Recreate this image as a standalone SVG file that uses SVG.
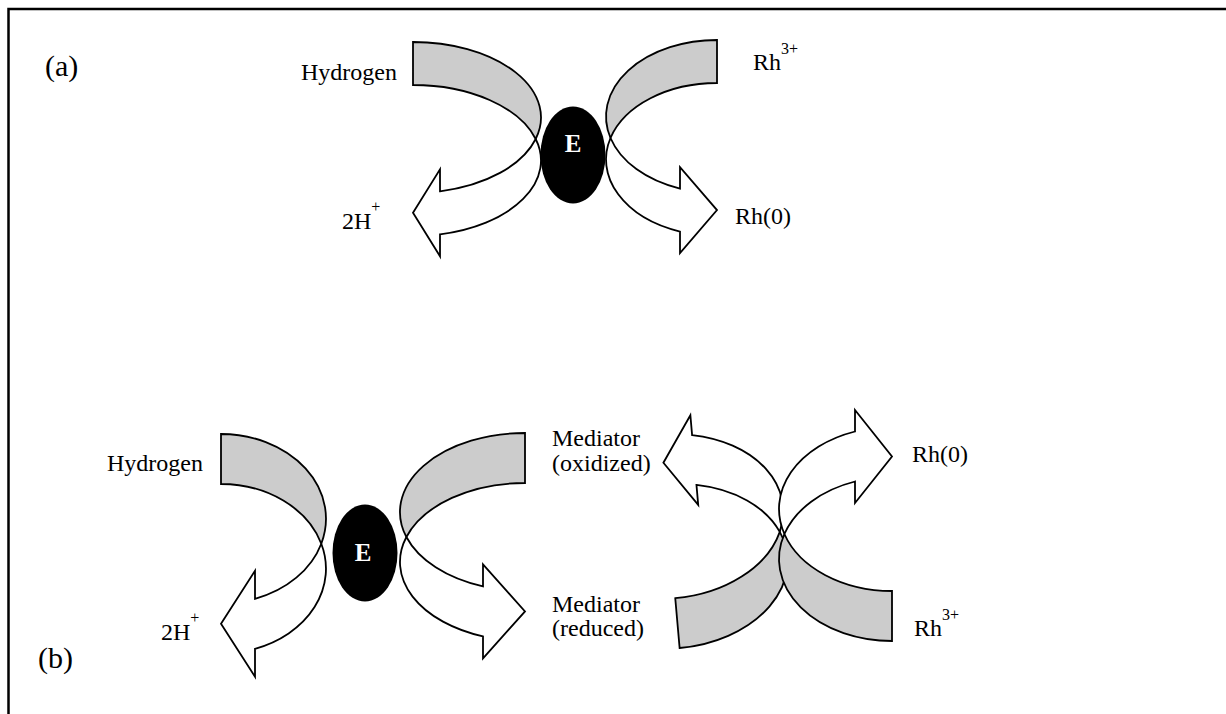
<svg xmlns="http://www.w3.org/2000/svg" width="1226" height="714" viewBox="0 0 1226 714">
  <style>
    .frame { fill: none; stroke: #000; stroke-width: 2.5; }
    .back { fill: #cccccc; stroke: #000; stroke-width: 1.8; stroke-linejoin: miter; }
    .front { fill: #ffffff; stroke: #000; stroke-width: 1.8; stroke-linejoin: miter; }
    .enz { fill: #000; }
    .enz-t { font-family: "Liberation Serif", "Times New Roman", serif; font-weight: bold; font-size: 25px; fill: #fff; text-anchor: middle; }
    .lbl { font-family: "Liberation Serif", "Times New Roman", serif; font-size: 24px; fill: #000; }
    .sup { font-size: 16px; }
    .panel { font-family: "Liberation Serif", "Times New Roman", serif; font-size: 30px; fill: #000; }
  </style>

  <!-- page frame: top and left rules only -->
  <path class="frame" d="M8.5,714 V9 H1226"/>

  <!-- curved ribbon arrows (local frame: left edge x=0, top y=0) -->
  <g id="connectors">
    <!-- (a) hydrogen -> 2H+ -->
    <g id="a-hydrogen-arrow" transform="translate(413,42)">
      <path class="back" d="M0,0 A128,75.5 0 0 1 122.7,97 A128,75.5 0 0 0 0,43 Z"/>
      <path class="front" d="M122.7,97 A128,75.5 0 0 1 27,192.3 L27,214.3 L0,170.8 L27,127.3 L27,149.3 A128,75.5 0 0 0 122.7,97 Z"/>
    </g>
    <!-- (a) Rh3+ -> Rh(0) -->
    <g id="a-rhodium-arrow" transform="translate(717,40) scale(-1,1)">
      <path class="back" d="M0,0 A111,76.5 0 0 1 106.5,98 A111,76.5 0 0 0 0,43 Z"/>
      <path class="front" d="M106.5,98 A111,76.5 0 0 1 37,191.6 L37,213.1 L0,170.1 L37,127.1 L37,148.6 A111,76.5 0 0 0 106.5,98 Z"/>
    </g>
    <!-- (b) hydrogen -> 2H+ -->
    <g id="b-hydrogen-arrow" transform="translate(221,434)">
      <path class="back" d="M0,0 A105,84.7 0 0 1 100.3,109.7 A105,84.7 0 0 0 0,50 Z"/>
      <path class="front" d="M100.3,109.7 A105,84.7 0 0 1 34,214.8 L34,242.8 L0,189.8 L34,136.8 L34,164.8 A105,84.7 0 0 0 100.3,109.7 Z"/>
    </g>
    <!-- (b) mediator oxidized -> reduced -->
    <g id="b-mediator-arrow" transform="translate(525,433) scale(-1,1)">
      <path class="back" d="M0,0 A125,79 0 0 1 118.6,104 A125,79 0 0 0 0,50 Z"/>
      <path class="front" d="M118.6,104 A125,79 0 0 1 42,203.4 L42,225.4 L0,178.4 L42,131.4 L42,153.4 A125,79 0 0 0 118.6,104 Z"/>
    </g>
    <!-- (b) mediator reduced -> oxidized (tilted) -->
    <g id="b-mediator-return" transform="rotate(-5,783,540) translate(670.6,638.6) scale(1,-1)">
      <path class="back" d="M0,0 A115.4,82 0 0 1 109.9,107 A115.4,82 0 0 0 0,50 Z"/>
      <path class="front" d="M109.9,107 A115.4,82 0 0 1 31,211 L31,231 L0,186 L31,141 L31,161 A115.4,82 0 0 0 109.9,107 Z"/>
    </g>
    <!-- (b) Rh3+ -> Rh(0) -->
    <g id="b-rhodium-arrow" transform="translate(892,641) scale(-1,-1)">
      <path class="back" d="M0,0 A113,82 0 0 1 107.6,107 A113,82 0 0 0 0,50 Z"/>
      <path class="front" d="M107.6,107 A113,82 0 0 1 37,209.5 L37,231 L0,184.5 L37,138 L37,159.5 A113,82 0 0 0 107.6,107 Z"/>
    </g>
  </g>

  <!-- enzyme nodes -->
  <g id="enzyme-a">
    <ellipse class="enz" cx="573" cy="155" rx="32.5" ry="48.5"/>
    <text class="enz-t" x="573" y="152">E</text>
  </g>
  <g id="enzyme-b">
    <ellipse class="enz" cx="365" cy="553" rx="32.5" ry="48.5"/>
    <text class="enz-t" x="363" y="561">E</text>
  </g>

  <!-- panel (a) labels -->
  <g id="labels-a">
    <text class="panel" x="45" y="76">(a)</text>
    <text class="lbl" x="397" y="80" text-anchor="end">Hydrogen</text>
    <text class="lbl" x="753" y="70">Rh<tspan class="sup" dy="-16">3+</tspan></text>
    <text class="lbl" x="342" y="229">2H<tspan class="sup" dy="-17">+</tspan></text>
    <text class="lbl" x="735" y="224">Rh(0)</text>
  </g>

  <!-- panel (b) labels -->
  <g id="labels-b">
    <text class="panel" x="38" y="668">(b)</text>
    <text class="lbl" x="203" y="471" text-anchor="end">Hydrogen</text>
    <text class="lbl" x="161" y="640">2H<tspan class="sup" dy="-17">+</tspan></text>
    <text class="lbl" x="552" y="446">Mediator</text>
    <text class="lbl" x="552" y="471">(oxidized)</text>
    <text class="lbl" x="552" y="612">Mediator</text>
    <text class="lbl" x="552" y="636">(reduced)</text>
    <text class="lbl" x="912" y="462">Rh(0)</text>
    <text class="lbl" x="914" y="636">Rh<tspan class="sup" dy="-16">3+</tspan></text>
  </g>
</svg>
